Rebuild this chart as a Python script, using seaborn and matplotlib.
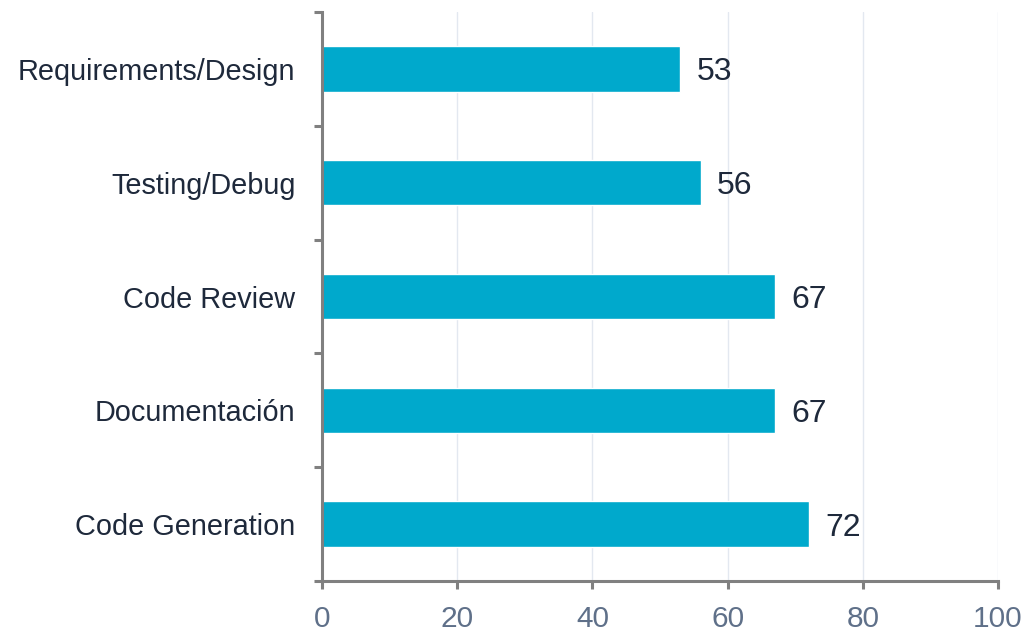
import matplotlib
matplotlib.use("Agg")
import matplotlib.pyplot as plt
import seaborn as sns
import pandas as pd
from matplotlib.ticker import FixedLocator

# data (top to bottom)
categories = ["Requirements/Design", "Testing/Debug", "Code Review", "Documentación", "Code Generation"]
values = [53, 56, 67, 67, 72]
x_ticks = [0, 20, 40, 60, 80, 100]

df = pd.DataFrame({"task": categories, "score": values})

sns.set_style("white")
plt.rcParams["font.family"] = ["Liberation Sans", "DejaVu Sans"]

fig = plt.figure(figsize=(10.27, 6.35), dpi=100)
ax = fig.add_axes([322 / 1027, 1 - 581 / 635, 676 / 1027, 569 / 635])

sns.barplot(data=df, x="score", y="task", orient="h", color="#00a9cc",
            width=0.4, saturation=1, ax=ax, zorder=2)

ax.set_xlim(0, 100)
ax.set_ylim(4.5, -0.5)
ax.set_xticks(x_ticks)
ax.set_xlabel("")
ax.set_ylabel("")

# grid
ax.grid(axis="x", color="#e3e8f0", linewidth=1.0, zorder=0)
ax.grid(axis="y", visible=False)
ax.set_axisbelow(True)

# spines
for s in ["top", "right"]:
    ax.spines[s].set_visible(False)
for s in ["left", "bottom"]:
    ax.spines[s].set_color("#808080")
    ax.spines[s].set_linewidth(2.2)

# ticks
ax.tick_params(axis="x", bottom=True, length=6, width=2.2, color="#808080", pad=11,
               labelsize=21.5, labelcolor="#5f7089")
ax.tick_params(axis="y", which="major", left=True, length=0, pad=19,
               labelsize=20.8, labelcolor="#1e293b")
ax.yaxis.set_minor_locator(FixedLocator([i - 0.5 for i in range(len(categories) + 1)]))
ax.tick_params(axis="y", which="minor", left=True, length=6, width=2.2, color="#808080")

# value labels
for i, v in enumerate(values):
    ax.annotate(str(v), xy=(v, i), xytext=(12, 0), textcoords="offset points",
                ha="left", va="center_baseline", fontsize=23, color="#1e293b", zorder=5)

fig.savefig("out.png", dpi=100)
